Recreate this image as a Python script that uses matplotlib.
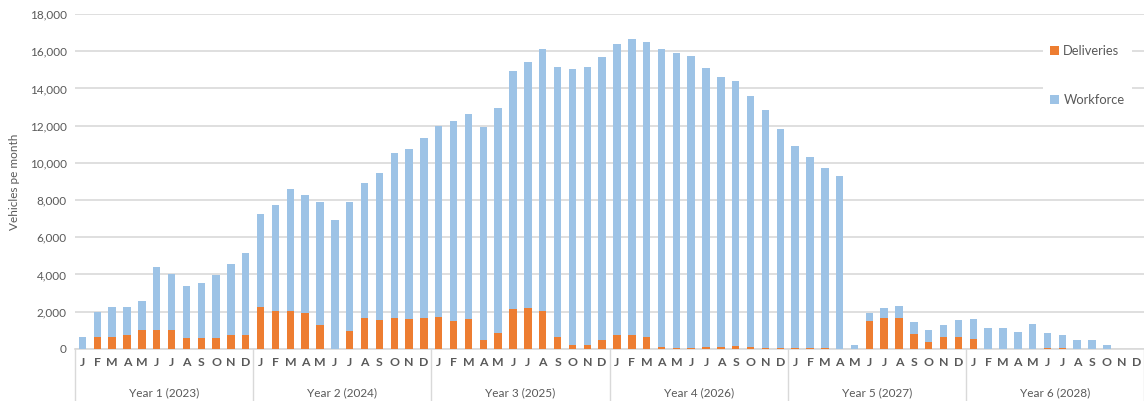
import numpy as np
import matplotlib.pyplot as plt
from matplotlib.transforms import blended_transform_factory

plt.rcParams['font.family'] = ['Lato', 'DejaVu Sans']

# Monthly figures, Jan 2023 - Dec 2028
months = list('JFMAMJJASOND') * 6
years = ['Year 1 (2023)', 'Year 2 (2024)', 'Year 3 (2025)',
         'Year 4 (2026)', 'Year 5 (2027)', 'Year 6 (2028)']

# total vehicles per month (deliveries + workforce)
totals = [630, 2000, 2240, 2270, 2580, 4390, 4030, 3400, 3530, 3980, 4570, 5160,
          7270, 7740, 8600, 8290, 7900, 6930, 7880, 8900, 9440, 10550, 10760, 11340,
          11960, 12250, 12650, 11930, 12970, 14920, 15440, 16140, 15130, 15050, 15170, 15690,
          16390, 16640, 16510, 16140, 15920, 15760, 15080, 14630, 14400, 13590, 12840, 11840,
          10910, 10330, 9710, 9300, 200, 1950, 2200, 2330, 1450, 1000, 1310, 1540,
          1630, 1130, 1110, 900, 1340, 840, 720, 470, 470, 230, 0, 0]

deliveries = [0, 660, 660, 720, 1020, 1000, 1000, 590, 610, 570, 730, 730,
              2240, 2020, 2040, 1920, 1290, 0, 950, 1670, 1560, 1680, 1610, 1670,
              1740, 1520, 1590, 450, 880, 2150, 2190, 2040, 660, 210, 210, 500,
              720, 720, 630, 90, 70, 70, 90, 110, 140, 90, 70, 70,
              70, 70, 70, 0, 0, 1490, 1650, 1650, 810, 360, 630, 630,
              520, 0, 0, 0, 0, 20, 20, 0, 0, 0, 0, 0]

workforce = [t - d for t, d in zip(totals, deliveries)]

orange = '#ED7D31'
blue = '#9DC3E6'
text_col = '#595959'
grid_col = '#D9D9D9'

fig = plt.figure(figsize=(11.44, 4.01), dpi=100)
ax = fig.add_axes([0.0656, 0.130, 0.9344, 0.835])

x = np.arange(len(months))
ax.bar(x, deliveries, width=0.5, color=orange, label='Deliveries', zorder=3)
ax.bar(x, workforce, width=0.5, bottom=deliveries, color=blue, label='Workforce', zorder=3)

ax.set_xlim(-0.5, len(months) - 0.5)
ax.set_ylim(0, 18000)
ax.set_yticks(range(0, 18001, 2000))
ax.set_yticklabels([f'{v:,}' for v in range(0, 18001, 2000)], fontsize=8.5, color=text_col)
ax.grid(axis='y', color=grid_col, linewidth=1.2, zorder=0)
ax.set_axisbelow(True)

for s in ['top', 'right', 'left']:
    ax.spines[s].set_visible(False)
ax.spines['bottom'].set_color(grid_col)
ax.spines['bottom'].set_linewidth(1.2)
ax.tick_params(axis='both', length=0)
ax.tick_params(axis='y', pad=6)

# month letters
ax.set_xticks(x)
ax.set_xticklabels(months, fontsize=8.8, color=text_col, fontweight='bold')
ax.tick_params(axis='x', pad=6)

# year group labels and separators
trans = blended_transform_factory(ax.transData, ax.transAxes)
for i, yr in enumerate(years):
    ax.text(i * 12 + 5.5, -0.13, yr, transform=trans, ha='center', va='center',
            fontsize=8.5, color=text_col)
for b in range(0, 73, 12):
    ax.plot([b - 0.5, b - 0.5], [0, -0.16], transform=trans, color=grid_col,
            linewidth=1, clip_on=False)

ax.set_ylabel('Vehicles pe month', fontsize=8.5, color=text_col, labelpad=7)

leg = ax.legend(loc='upper right', bbox_to_anchor=(0.995, 0.95), frameon=True,
                fontsize=9.3, labelspacing=2.9, handlelength=0.7, handleheight=0.7,
                handletextpad=0.3, borderpad=0.6, framealpha=1)
leg.get_frame().set_edgecolor('white')
leg.get_frame().set_linewidth(0)
for t in leg.get_texts():
    t.set_color(text_col)

fig.savefig('out.png', dpi=100)
